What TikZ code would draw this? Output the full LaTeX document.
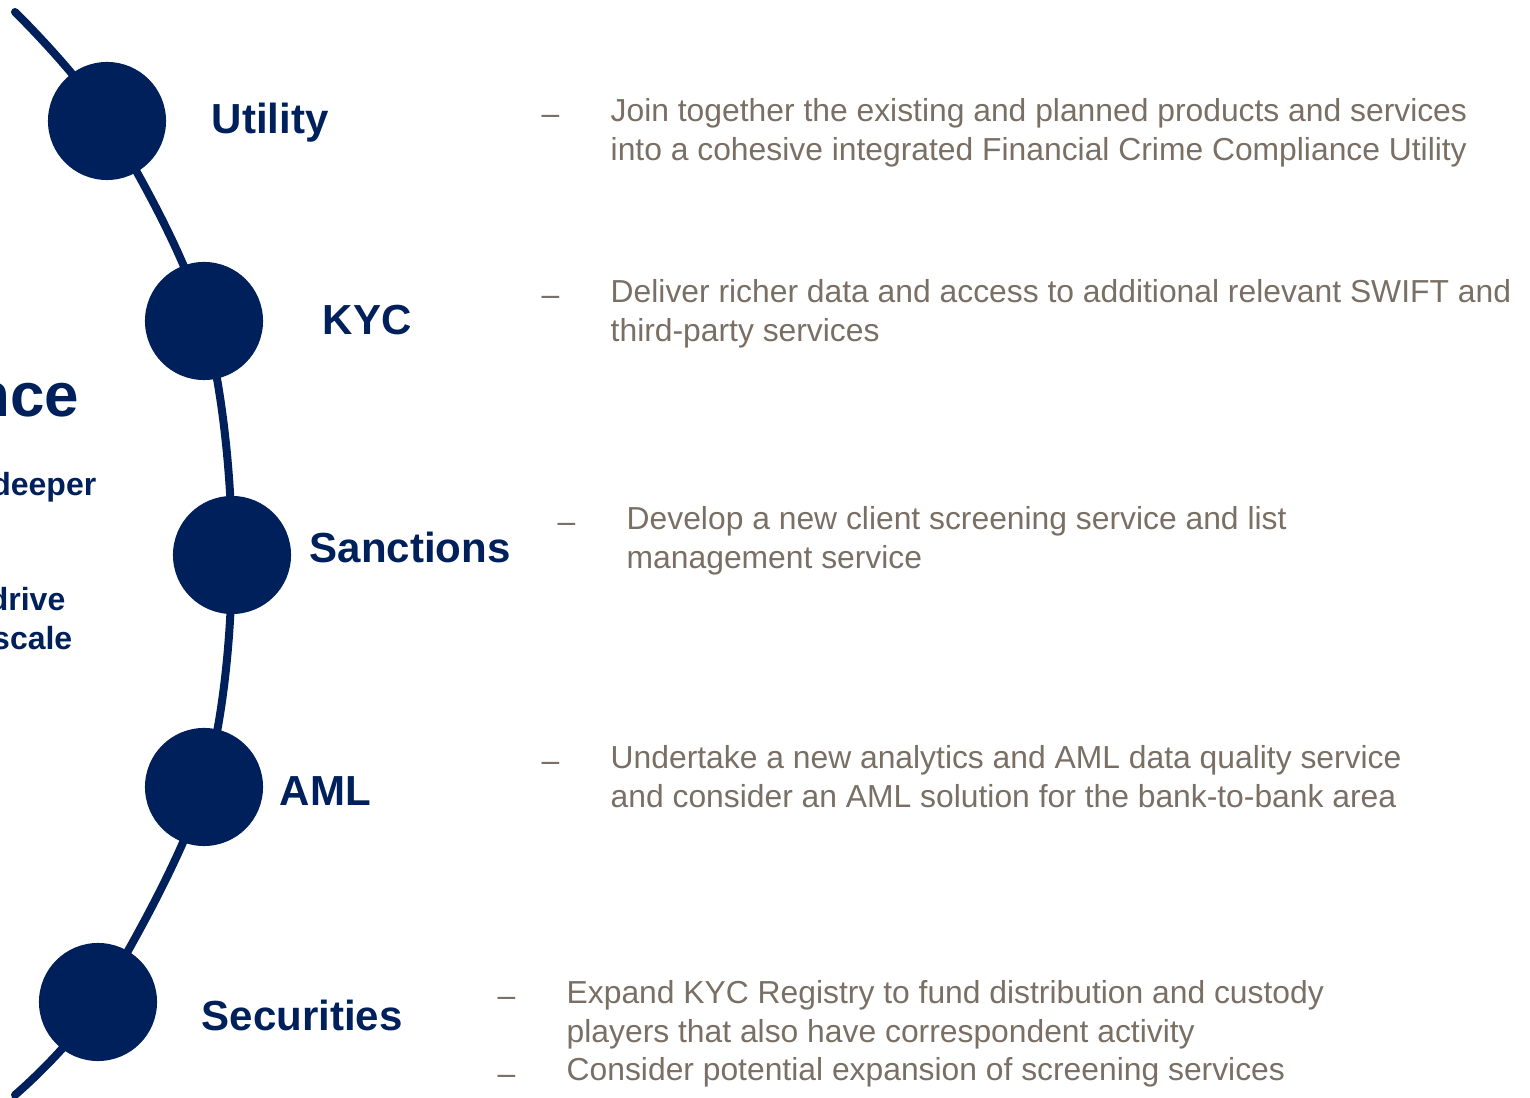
\documentclass[tikz,border=0pt]{standalone}
\usepackage{fontspec}
\setmainfont{Liberation Sans}
\usetikzlibrary{backgrounds}

\definecolor{swiftnavy}{RGB}{0,32,91}
\definecolor{swiftgrey}{RGB}{122,111,100}

\begin{document}
\begin{tikzpicture}[x=0.01cm,y=-0.01cm,
    dot/.style={circle,fill=swiftnavy,minimum size=1.18cm,inner sep=0pt},
    stage/.style={font=\fontsize{11.95}{14}\selectfont\bfseries,text=swiftnavy,anchor=base west,inner sep=0pt},
    note/.style={font=\fontsize{9.05}{10.95}\selectfont,text=swiftgrey,align=left,anchor=base west,inner sep=0pt},
    side/.style={font=\fontsize{9.1}{11}\selectfont\bfseries,text=swiftnavy,anchor=base east,inner sep=0pt}]

    \useasboundingbox (0,0) rectangle (1530,1098);
    \clip (0,0) rectangle (1530,1098);

    % the five stages
    \node[dot] (utility)    at (107,121)  {};
    \node[dot] (kyc)        at (204,321)  {};
    \node[dot] (sanctions)  at (232,555)  {};
    \node[dot] (aml)        at (204,787)  {};
    \node[dot] (securities) at (98,1002)  {};

    \coordinate (top)    at (15,12);
    \coordinate (bottom) at (15,1095);

    \begin{scope}[on background layer]
      \draw[swiftnavy,line width=0.08cm,line cap=round]
          plot[smooth,tension=0.55] coordinates {
            (top)
            (utility.center)
            (kyc.center)
            (sanctions.center)
            (aml.center)
            (securities.center)
            (bottom)
          };
    \end{scope}

    % cut-off text on the left edge
    \node[side,font=\fontsize{17.6}{20}\selectfont\bfseries] (nce) at (80,417) {nce};
    \node[side] (deeper) at (97,496) {deeper};
    \node[side] (drive)  at (66,611) {drive};
    \node[side] (scale)  at (73,650) {scale};

    % stage names
    \node[stage] (l-utility)    at (211,134)  {Utility};
    \node[stage] (l-kyc)        at (322,335)  {KYC};
    \node[stage] (l-sanctions)  at (309,563)  {Sanctions};
    \node[stage] (l-aml)        at (279,806)  {AML};
    \node[stage] (l-securities) at (201,1031) {Securities};

    % descriptions (placed at the baseline of their last line)
    \node[note] (m-utility) at (541,125) {--};
    \node[note] (t-utility) at (610,160.5)
        {Join together the existing and planned products and services\\
         into a cohesive integrated Financial Crime Compliance Utility};

    \node[note] (m-kyc) at (541,306) {--};
    \node[note] (t-kyc) at (610,341.5)
        {Deliver richer data and access to additional relevant SWIFT and\\
         third-party services};

    \node[note] (m-sanctions) at (557,533) {--};
    \node[note] (t-sanctions) at (626,568.5)
        {Develop a new client screening service and list\\
         management service};

    \node[note] (m-aml) at (541,772) {--};
    \node[note] (t-aml) at (610,807.5)
        {Undertake a new analytics and AML data quality service\\
         and consider an AML solution for the bank-to-bank area};

    \node[note] (m-securities) at (497,1007) {--};
    \node[note] (t-securities) at (566,1042.5)
        {Expand KYC Registry to fund distribution and custody\\
         players that also have correspondent activity};
    \node[note] (m-screening) at (497,1084) {--};
    \node[note] (t-screening) at (566,1081)
        {Consider potential expansion of screening services};
\end{tikzpicture}
\end{document}
